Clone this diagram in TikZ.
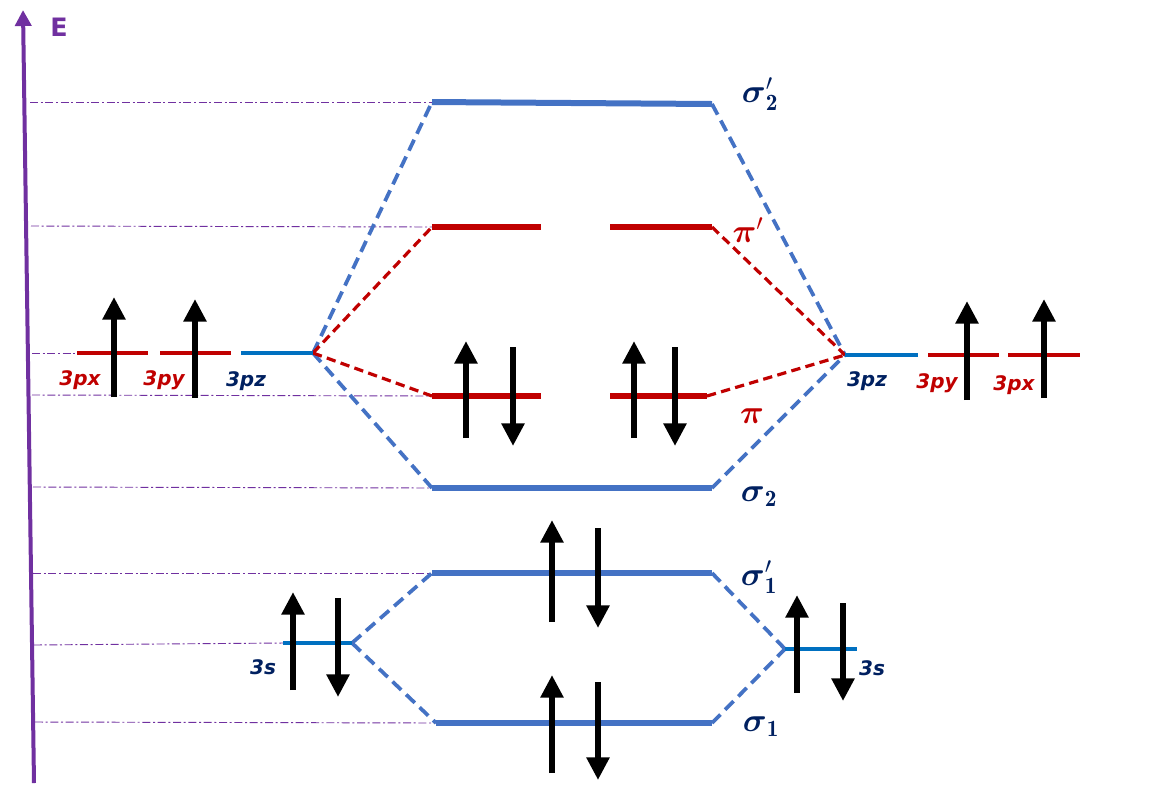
\documentclass[tikz,border=0pt]{standalone}
\usepackage{amsmath}
\usepackage{fontspec}
\setsansfont{DejaVu Sans}
\usetikzlibrary{arrows.meta}
\definecolor{lvblue}{HTML}{4472C4}
\definecolor{pblue}{HTML}{0070C0}
\definecolor{lred}{HTML}{C00000}
\definecolor{navy}{HTML}{002060}
\definecolor{epurple}{HTML}{7030A0}
\tikzset{
  guide/.style={draw=epurple, line width=0.7pt, dash pattern=on 6pt off 2pt on 1.5pt off 2pt},
  blvl/.style={draw=lvblue, line width=3.8pt},
  rlvl/.style={draw=lred, line width=4.5pt},
  plvl/.style={draw=pblue, line width=3pt},
  rplvl/.style={draw=lred, line width=3pt},
  bcon/.style={draw=lvblue, line width=2.8pt, dash pattern=on 9pt off 5pt},
  rcon/.style={draw=lred, line width=2.4pt, dash pattern=on 7pt off 4pt},
  spin/.style={draw=black, line width=5.2pt, -{Triangle[width=16.5pt,length=17pt]}},
  orb/.style={font=\sffamily\bfseries\itshape\fontsize{15}{17}\selectfont, inner sep=0pt},
  mo/.style={font=\fontsize{25}{30}\selectfont, text=navy, inner sep=0pt},
}
\begin{document}
\begin{tikzpicture}[x=0.75pt,y=-0.75pt]
\useasboundingbox (0,0) rectangle (1149,794);
% energy axis
\coordinate (ebot) at (34,783);
\coordinate (etop) at (23,10);
\draw[draw=epurple, line width=3pt, -{Triangle[width=12pt,length=12pt]}] (ebot) -- (etop);
\node[text=epurple, font=\sffamily\bfseries\fontsize{19}{22}\selectfont, inner sep=0pt] (elab) at (59,27) {E};

% level endpoints
\coordinate (s2pL) at (432,102); \coordinate (s2pR) at (712,104);
\coordinate (ppaL) at (432,227); \coordinate (ppaR) at (541,227);
\coordinate (ppbL) at (610,227); \coordinate (ppbR) at (712,227);
\coordinate (paL) at (432,396); \coordinate (paR) at (541,396);
\coordinate (pbL) at (610,396); \coordinate (pbR) at (707,396);
\coordinate (s2L) at (432,488); \coordinate (s2R) at (712,488);
\coordinate (s1pL) at (432,573); \coordinate (s1pR) at (712,573);
\coordinate (s1L) at (436,723); \coordinate (s1R) at (712,723);
% left atom
\coordinate (lpxL) at (77,353); \coordinate (lpxR) at (148,353);
\coordinate (lpyL) at (160,353); \coordinate (lpyR) at (231,353);
\coordinate (lpzL) at (241,353); \coordinate (lpzR) at (313,353);
\coordinate (lsL) at (283,643); \coordinate (lsR) at (352,643);
% right atom
\coordinate (rpzL) at (845,355); \coordinate (rpzR) at (918,355);
\coordinate (rpyL) at (928,355); \coordinate (rpyR) at (999,355);
\coordinate (rpxL) at (1008,355); \coordinate (rpxR) at (1080,355);
\coordinate (rsL) at (785,649); \coordinate (rsR) at (857,649);

% guide lines
\coordinate (g1) at (30,102); \coordinate (g2) at (31,226);
\coordinate (g3) at (32,353); \coordinate (g4) at (32,395);
\coordinate (g5) at (33,487); \coordinate (g6) at (33,573);
\coordinate (g7) at (34,645); \coordinate (g8) at (35,722);
\draw[guide] (g1) -- (s2pL);
\draw[guide] (g2) -- (ppaL);
\draw[guide] (g3) -- (lpxL);
\draw[guide] (g4) -- (paL);
\draw[guide] (g5) -- (s2L);
\draw[guide] (g6) -- (s1pL);
\draw[guide] (g7) -- (lsL);
\draw[guide] (g8) -- (s1L);

% connectors
\draw[bcon] (lpzR) -- (s2pL);
\draw[bcon] (lpzR) -- (s2L);
\draw[bcon] (s2pR) -- (rpzL);
\draw[bcon] (s2R) -- (rpzL);
\draw[rcon] (lpzR) -- (ppaL);
\draw[rcon] (lpzR) -- (paL);
\draw[rcon] (ppbR) -- (rpzL);
\draw[rcon] (pbR) -- (rpzL);
\draw[bcon] (lsR) -- (s1pL);
\draw[bcon] (lsR) -- (s1L);
\draw[bcon] (s1pR) -- (rsL);
\draw[bcon] (s1R) -- (rsL);

% levels
\draw[blvl, line width=4.5pt] (s2pL) -- (s2pR);
\draw[rlvl] (ppaL) -- (ppaR);
\draw[rlvl] (ppbL) -- (ppbR);
\draw[rlvl] (paL) -- (paR);
\draw[rlvl] (pbL) -- (pbR);
\draw[blvl] (s2L) -- (s2R);
\draw[blvl] (s1pL) -- (s1pR);
\draw[blvl] (s1L) -- (s1R);
\draw[rplvl] (lpxL) -- (lpxR);
\draw[rplvl] (lpyL) -- (lpyR);
\draw[plvl] (lpzL) -- (lpzR);
\draw[plvl] (lsL) -- (lsR);
\draw[plvl] (rpzL) -- (rpzR);
\draw[rplvl] (rpyL) -- (rpyR);
\draw[rplvl] (rpxL) -- (rpxR);
\draw[plvl] (rsL) -- (rsR);

% spins
\coordinate (a1s) at (114,397); \coordinate (a1e) at (114,297);
\coordinate (a2s) at (195,398); \coordinate (a2e) at (195,299);
\coordinate (a3s) at (466,438); \coordinate (a3e) at (466,341);
\coordinate (a4s) at (513,347); \coordinate (a4e) at (513,446);
\coordinate (a5s) at (634,438); \coordinate (a5e) at (634,341);
\coordinate (a6s) at (675,347); \coordinate (a6e) at (675,446);
\coordinate (a7s) at (967,400); \coordinate (a7e) at (967,301);
\coordinate (a8s) at (1044,398); \coordinate (a8e) at (1044,299);
\coordinate (a9s) at (552,622); \coordinate (a9e) at (552,520);
\coordinate (a10s) at (598,528); \coordinate (a10e) at (598,628);
\coordinate (a11s) at (293,690); \coordinate (a11e) at (293,592);
\coordinate (a12s) at (338,598); \coordinate (a12e) at (338,697);
\coordinate (a13s) at (797,693); \coordinate (a13e) at (797,595);
\coordinate (a14s) at (843,603); \coordinate (a14e) at (843,701);
\coordinate (a15s) at (552,773); \coordinate (a15e) at (552,675);
\coordinate (a16s) at (598,682); \coordinate (a16e) at (598,780);
\foreach \i in {1,...,16} {\draw[spin] (a\i s) -- (a\i e);}

% MO labels
\node[mo] (ls2p) at (760,94) {$\boldsymbol{\sigma}'_{\mathbf{2}}$};
\node[mo, text=lred] (lpp) at (748,230) {$\boldsymbol{\pi}'$};
\node[mo, text=lred] (lp) at (752,416) {$\boldsymbol{\pi}$};
\node[mo] (ls2) at (759,497) {$\boldsymbol{\sigma}_{\mathbf{2}}$};
\node[mo] (ls1p) at (759,577) {$\boldsymbol{\sigma}'_{\mathbf{1}}$};
\node[mo] (ls1) at (761,727) {$\boldsymbol{\sigma}_{\mathbf{1}}$};

% AO labels
\node[orb, text=lred] (tlpx) at (80,380) {3px};
\node[orb, text=lred] (tlpy) at (164,380) {3py};
\node[orb, text=navy] (tlpz) at (246,381) {3pz};
\node[orb, text=navy] (trpz) at (867,381) {3pz};
\node[orb, text=lred] (trpy) at (937,383) {3py};
\node[orb, text=lred] (trpx) at (1014,385) {3px};
\node[orb, text=navy] (tls) at (263,667) {3s};
\node[orb, text=navy] (trs) at (872,668) {3s};
\end{tikzpicture}
\end{document}
